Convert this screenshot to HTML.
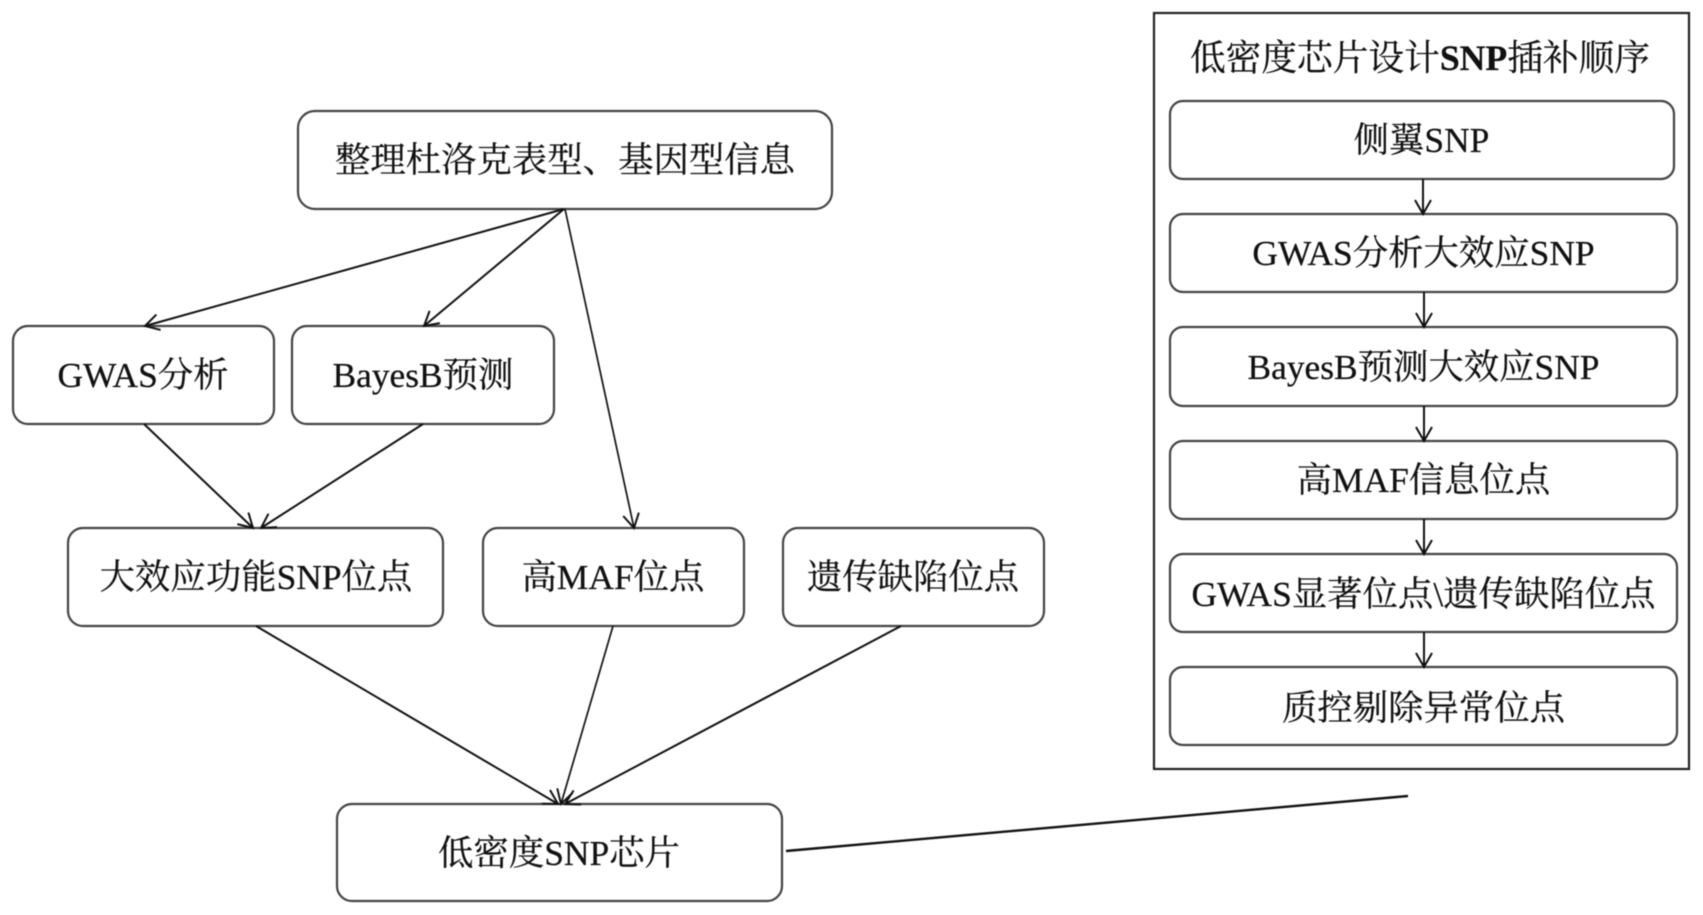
<!DOCTYPE html>
<html lang="zh">
<head>
<meta charset="utf-8">
<title>低密度SNP芯片设计流程</title>
<style>
html,body{margin:0;padding:0;background:#fff;width:1703px;height:915px;overflow:hidden}
svg{display:block;filter:blur(.5px)}
text{font-family:"Liberation Serif","Noto Serif CJK SC",serif;font-size:35.4px;fill:#111;stroke:#111;stroke-width:.25;text-anchor:middle}
.b{fill:#fff;stroke:#444;stroke-width:2.2}
.l{stroke:#111;stroke-width:2;fill:none;marker-end:url(#a)}
</style>
</head>
<body>
<svg width="1703" height="915" viewBox="0 0 1703 915" xmlns="http://www.w3.org/2000/svg">
<defs>
<marker id="a" markerUnits="userSpaceOnUse" markerWidth="24" markerHeight="24" refX="18" refY="12" orient="auto">
<path d="M4 4L18 12L4 20" fill="none" stroke="#111" stroke-width="2"/>
</marker>
</defs>

<rect class="b" x="298" y="111" width="534" height="98" rx="17"/>
<rect class="b" x="13" y="326" width="261" height="98" rx="15"/>
<rect class="b" x="292" y="326" width="262" height="98" rx="15"/>
<rect class="b" x="68" y="528" width="375" height="98" rx="15"/>
<rect class="b" x="483" y="528" width="261" height="98" rx="15"/>
<rect class="b" x="783" y="528" width="261" height="98" rx="15"/>
<rect class="b" x="337" y="804" width="445" height="97" rx="15"/>

<line class="l" x1="564" y1="209" x2="145" y2="326" stroke-width="2.4"/>
<line class="l" x1="564" y1="209" x2="424" y2="326"/>
<line class="l" x1="565" y1="209" x2="634" y2="528" style="stroke-width:1.7"/>
<line class="l" x1="144" y1="424" x2="253" y2="528"/>
<line class="l" x1="423" y1="424" x2="261" y2="528"/>
<line class="l" x1="256" y1="626" x2="558" y2="804"/>
<line class="l" x1="613" y1="626" x2="561" y2="804" style="stroke-width:1.7"/>
<line class="l" x1="901" y1="626" x2="565" y2="804"/>
<line x1="786" y1="851" x2="1408" y2="796" stroke="#111" stroke-width="2.4"/>

<text x="565" y="172">整理杜洛克表型、基因型信息</text>
<text x="143" y="387">GWAS分析</text>
<text x="423" y="387">BayesB预测</text>
<text x="256" y="589">大效应功能SNP位点</text>
<text x="613" y="589">高MAF位点</text>
<text x="913" y="589">遗传缺陷位点</text>
<text x="559" y="865">低密度SNP芯片</text>

<rect x="1154" y="13" width="535" height="756" fill="#fff" stroke="#222" stroke-width="2.2"/>
<text x="1420" y="70" style="font-size:35.7px">低密度芯片设计<tspan font-weight="bold">SNP</tspan>插补顺序</text>

<rect class="b" x="1170" y="101" width="504" height="78" rx="13"/>
<rect class="b" x="1170" y="214" width="507" height="78" rx="13"/>
<rect class="b" x="1170" y="327" width="507" height="79" rx="13"/>
<rect class="b" x="1170" y="441" width="507" height="78" rx="13"/>
<rect class="b" x="1170" y="554" width="507" height="78" rx="13"/>
<rect class="b" x="1170" y="667" width="507" height="78" rx="13"/>

<line class="l" x1="1423" y1="179" x2="1423" y2="214"/>
<line class="l" x1="1424" y1="292" x2="1424" y2="327"/>
<line class="l" x1="1424" y1="406" x2="1424" y2="441"/>
<line class="l" x1="1424" y1="519" x2="1424" y2="554"/>
<line class="l" x1="1424" y1="632" x2="1424" y2="667"/>

<text x="1421.5" y="152">侧翼SNP</text>
<text x="1423.5" y="265">GWAS分析大效应SNP</text>
<text x="1423.5" y="379">BayesB预测大效应SNP</text>
<text x="1423.5" y="492">高MAF信息位点</text>
<text x="1423.5" y="606">GWAS显著位点\遗传缺陷位点</text>
<text x="1423.5" y="720">质控剔除异常位点</text>
</svg>
</body>
</html>
